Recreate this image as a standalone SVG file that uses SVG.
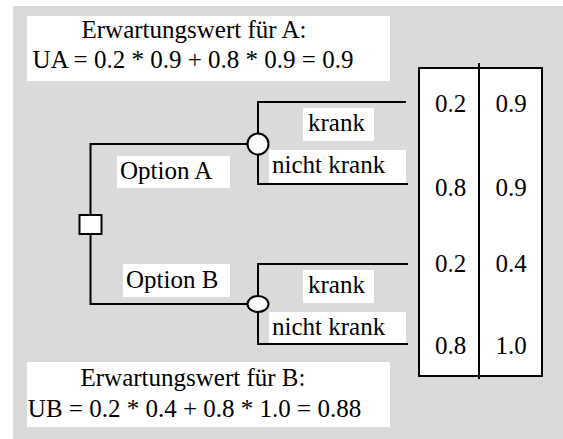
<svg xmlns="http://www.w3.org/2000/svg" width="563" height="439" viewBox="0 0 563 439">
<style>
.m{text-anchor:middle}
.lb{fill:#fff;stroke:none}
.ln{fill:none;stroke:#000;stroke-width:2}
.nd{fill:#fff;stroke:#000;stroke-width:2}
</style>
<rect x="0" y="0" width="563" height="439" fill="#fff"/>
<rect x="13" y="6" width="550" height="433" fill="#dadada"/>
<g id="connectors">
<path class="ln" d="M90.5,215 V144 H247.5"/>
<path class="ln" d="M90.5,234 V304 H247.5"/>
<path class="ln" d="M258,134 V102 H406"/>
<path class="ln" d="M258,154 V184 H408"/>
<path class="ln" d="M258,296 V264 H408"/>
<path class="ln" d="M258,312 V344 H408"/>
</g>
<g font-family="Liberation Serif, Times New Roman, serif" font-size="25" fill="#000">
<g id="ua-box">
<rect class="lb" x="27" y="16" width="363" height="65"/>
<text class="m" x="194" y="38">Erwartungswert für A:</text>
<text class="m" x="193" y="68">UA = 0.2 * 0.9 + 0.8 * 0.9 = 0.9</text>
</g>
<g id="ub-box">
<rect class="lb" x="27" y="362" width="363" height="65"/>
<text class="m" x="193" y="386">Erwartungswert für B:</text>
<text class="m" x="194.5" y="417">UB = 0.2 * 0.4 + 0.8 * 1.0 = 0.88</text>
</g>
<g id="decision">
<rect class="nd" x="79.5" y="215" width="22" height="19"/>
</g>
<g id="chanceA">
<circle class="nd" cx="258" cy="144" r="10.5"/>
</g>
<g id="chanceB">
<ellipse class="nd" cx="258" cy="304" rx="10.5" ry="8"/>
</g>
<g id="optA">
<rect class="lb" x="117" y="156" width="113" height="32"/>
<text x="120" y="179">Option A</text>
</g>
<g id="optB">
<rect class="lb" x="123" y="264" width="107" height="33"/>
<text x="126" y="288">Option B</text>
</g>
<g id="krankA">
<rect class="lb" x="303" y="108" width="71" height="33"/>
<text x="308" y="131">krank</text>
</g>
<g id="nichtkrankA">
<rect class="lb" x="269" y="150" width="137" height="33"/>
<text x="272" y="173">nicht krank</text>
</g>
<g id="krankB">
<rect class="lb" x="303" y="270" width="71" height="33"/>
<text x="308" y="293">krank</text>
</g>
<g id="nichtkrankB">
<rect class="lb" x="269" y="312" width="137" height="31"/>
<text x="272" y="335">nicht krank</text>
</g>
<g id="table">
<rect class="nd" x="419" y="68" width="123" height="308"/>
<line class="ln" x1="479" y1="63" x2="479" y2="379"/>
<text class="m" x="450.5" y="112">0.2</text>
<text class="m" x="511" y="112">0.9</text>
<text class="m" x="450.5" y="196">0.8</text>
<text class="m" x="511" y="196">0.9</text>
<text class="m" x="450.5" y="272">0.2</text>
<text class="m" x="511" y="272">0.4</text>
<text class="m" x="450.5" y="354">0.8</text>
<text class="m" x="511" y="354">1.0</text>
</g>
</g>
</svg>
